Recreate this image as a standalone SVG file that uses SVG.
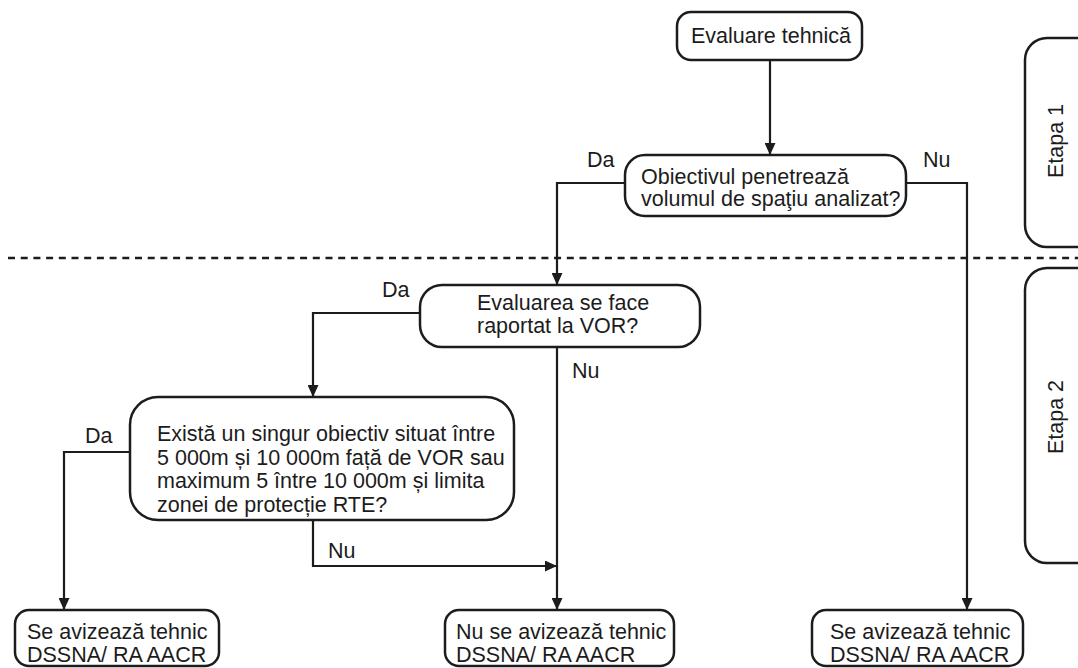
<svg xmlns="http://www.w3.org/2000/svg" width="1078" height="668" viewBox="0 0 1078 668">
<defs>
<style>
.box{fill:#fff;stroke:#1c1c1c;stroke-width:2.5}
.t{font-family:"Liberation Sans",Arial,sans-serif;font-size:21.5px;fill:#1c1c1c}
.ln{fill:none;stroke:#1c1c1c;stroke-width:2.2}
.dash{fill:none;stroke:#1c1c1c;stroke-width:2.5;stroke-dasharray:7 5.7}
</style>
<marker id="ah" viewBox="0 0 12 11" refX="12" refY="5.5" markerWidth="12" markerHeight="11" markerUnits="userSpaceOnUse" orient="auto">
<path d="M0,0 L12,5.5 L0,11 z" fill="#1c1c1c"/>
</marker>
</defs>
<rect width="1078" height="668" fill="#fff"/>

<g id="separator">
<line class="dash" x1="8" y1="258" x2="1078" y2="258"/>
</g>

<g id="etapa1">
<rect class="box" x="1025" y="38" width="90" height="209" rx="22"/>
<text class="t" text-anchor="middle" transform="translate(1063,141) rotate(-90)">Etapa 1</text>
</g>
<g id="etapa2">
<rect class="box" x="1025" y="268" width="90" height="295" rx="22"/>
<text class="t" text-anchor="middle" transform="translate(1063,417) rotate(-90)">Etapa 2</text>
</g>

<g id="connectors">
<path class="ln" d="M770,60 V155" marker-end="url(#ah)"/>
<path class="ln" d="M625,183 H557 V285" marker-end="url(#ah)"/>
<path class="ln" d="M906,183 H967 V610" marker-end="url(#ah)"/>
<path class="ln" d="M420,313 H313 V397" marker-end="url(#ah)"/>
<path class="ln" d="M557,347 V610" marker-end="url(#ah)"/>
<path class="ln" d="M130,452 H64 V610" marker-end="url(#ah)"/>
<path class="ln" d="M313,520 V566 H557" marker-end="url(#ah)"/>
<text class="t" x="587" y="167">Da</text>
<text class="t" x="923" y="167">Nu</text>
<text class="t" x="382" y="297">Da</text>
<text class="t" x="572" y="378">Nu</text>
<text class="t" x="85" y="443">Da</text>
<text class="t" x="328" y="558">Nu</text>
</g>

<g id="evaluare-tehnica">
<rect class="box" x="677" y="12" width="185" height="48" rx="14"/>
<text class="t" x="771" y="43" text-anchor="middle">Evaluare tehnică</text>
</g>

<g id="obiectivul">
<rect class="box" x="625" y="155" width="281" height="61" rx="20"/>
<text class="t" x="641" y="184">Obiectivul penetrează</text>
<text class="t" x="641" y="206">volumul de spaţiu analizat?</text>
</g>

<g id="evaluarea-vor">
<rect class="box" x="420" y="285" width="280" height="62" rx="22"/>
<text class="t" x="477" y="310">Evaluarea se face</text>
<text class="t" x="477" y="333">raportat la VOR?</text>
</g>

<g id="exista">
<rect class="box" x="130" y="397" width="384" height="123" rx="28"/>
<text class="t" x="157" y="441">Există un singur obiectiv situat între</text>
<text class="t" x="157" y="464.5">5 000m și 10 000m față de VOR sau</text>
<text class="t" x="157" y="488">maximum 5 între 10 000m și limita</text>
<text class="t" x="157" y="511.5">zonei de protecție RTE?</text>
</g>

<g id="aviz-stanga">
<rect class="box" x="15" y="610" width="204" height="56" rx="14"/>
<text class="t" x="27" y="639">Se avizează tehnic</text>
<text class="t" x="27" y="662">DSSNA/ RA AACR</text>
</g>

<g id="nu-aviz">
<rect class="box" x="445" y="610" width="229" height="56" rx="14"/>
<text class="t" x="456" y="639">Nu se avizează tehnic</text>
<text class="t" x="456" y="662">DSSNA/ RA AACR</text>
</g>

<g id="aviz-dreapta">
<rect class="box" x="812" y="610" width="211" height="56" rx="14"/>
<text class="t" x="830" y="639">Se avizează tehnic</text>
<text class="t" x="830" y="662">DSSNA/ RA AACR</text>
</g>
</svg>
